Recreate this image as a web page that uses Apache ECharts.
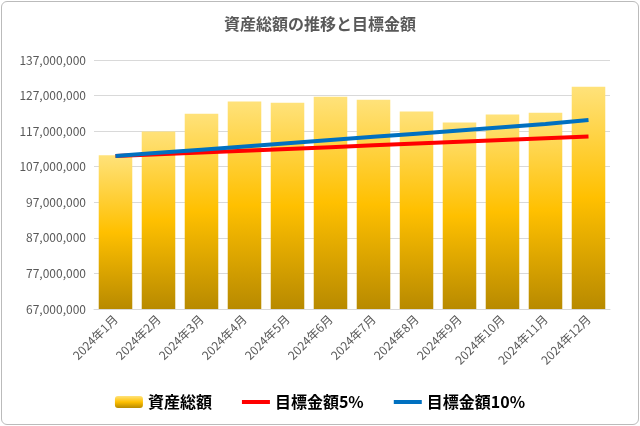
<!DOCTYPE html><html><head><meta charset="utf-8">
<script src="https://cdn.jsdelivr.net/npm/echarts@6/dist/echarts.min.js"></script>
<style>html,body{margin:0;background:#fff}#c{width:638px;height:424px;border:1px solid #bbb;border-radius:6px;box-sizing:border-box;margin:1px}</style>
</head><body><div id="c"></div><script>
const categories=['2024年1月','2024年2月','2024年3月','2024年4月','2024年5月','2024年6月','2024年7月','2024年8月','2024年9月','2024年10月','2024年11月','2024年12月'];
const totals=[110200000,116900000,121900000,125300000,125000000,126700000,125800000,122500000,119400000,121700000,122200000,129500000];
const target5=[110000000,110500000,111000000,111500000,112000000,112500000,113000000,113500000,114000000,114500000,115000000,115500000];
const target10=[110000000,110900000,111800000,112700000,113600000,114500000,115400000,116300000,117200000,118100000,119000000,120100000];
const f='"Noto Sans CJK JP",sans-serif';
const ch=echarts.init(document.getElementById('c'));
ch.setOption({
title:{text:'資産総額の推移と目標金額',left:'center',top:9,textStyle:{fontFamily:f,fontSize:16,fontWeight:'bold',color:'#595959'}},
grid:{left:92,right:28,top:58,bottom:115},
legend:{bottom:9,itemGap:30,textStyle:{fontFamily:f,fontSize:16,fontWeight:'bold',color:'#000'},itemWidth:28,itemHeight:12,
 data:[{name:'資産総額'},{name:'目標金額5%',icon:'path://M0,4 L28,4 L28,8 L0,8 Z'},{name:'目標金額10%',icon:'path://M0,4 L28,4 L28,8 L0,8 Z'}]},
xAxis:{type:'category',data:categories,axisTick:{show:false},axisLine:{lineStyle:{color:'#d9d9d9'}},
 axisLabel:{rotate:45,fontFamily:f,fontSize:12,color:'#595959',interval:0}},
yAxis:{type:'value',min:67000000,max:137000000,interval:10000000,axisLine:{show:false},
 splitLine:{lineStyle:{color:'#d9d9d9'}},axisLabel:{fontFamily:f,fontSize:12,color:'#595959',formatter:v=>v.toLocaleString('en-US')}},
series:[
{name:'資産総額',type:'bar',data:totals,barWidth:'78%',itemStyle:{color:new echarts.graphic.LinearGradient(0,0,0,1,[{offset:0,color:'#FFE27A'},{offset:0.5,color:'#FFC000'},{offset:1,color:'#B88A00'}])}},
{name:'目標金額5%',type:'line',data:target5,symbol:'none',lineStyle:{width:4,color:'#FF0000'},itemStyle:{color:'#FF0000'}},
{name:'目標金額10%',type:'line',data:target10,symbol:'none',lineStyle:{width:4,color:'#0070C0'},itemStyle:{color:'#0070C0'}}
]});
</script></body></html>
